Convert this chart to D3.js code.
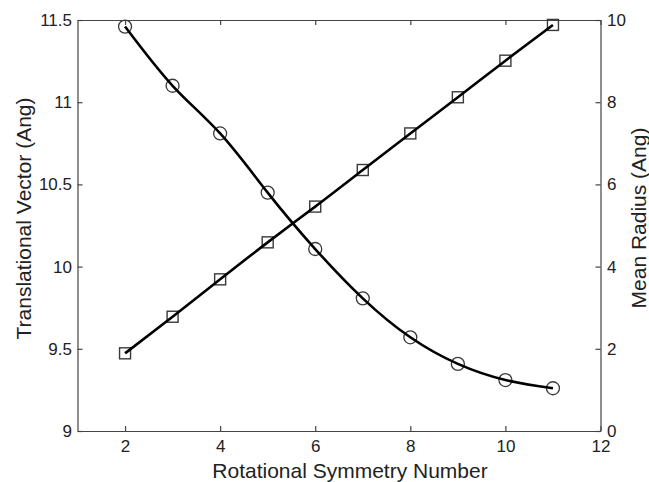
<!DOCTYPE html>
<html>
<head>
<meta charset="utf-8">
<script src="https://cdn.jsdelivr.net/npm/d3@7"></script>
<style>
  html, body { margin: 0; padding: 0; background: #fff; }
  svg { display: block; }
  text { font-family: "Liberation Sans", Arial, Helvetica, sans-serif; fill: #222; }
</style>
</head>
<body>
<svg id="chart" width="649" height="482"></svg>
<script>
// ---- data ----
const symmetryNumbers = [2, 3, 4, 5, 6, 7, 8, 9, 10, 11];
const translationalVector = [11.46, 11.10, 10.81, 10.45, 10.107, 9.807, 9.57, 9.408, 9.31, 9.26];
const meanRadius = [1.89, 2.78, 3.69, 4.59, 5.46, 6.35, 7.24, 8.12, 9.01, 9.88];
const xTicks = [2, 4, 6, 8, 10, 12];
const leftTicks = [9, 9.5, 10, 10.5, 11, 11.5];
const rightTicks = [0, 2, 4, 6, 8, 10];
const xTitle = "Rotational Symmetry Number";
const leftTitle = "Translational Vector (Ang)";
const rightTitle = "Mean Radius (Ang)";

// ---- layout ----
const L = 77.5, R = 600.5, T = 20, B = 431;
const svg = d3.select("#chart");

const x = d3.scaleLinear().domain([1, 12]).range([L, R]);
const yL = d3.scaleLinear().domain([9, 11.5]).range([B, T]);
const yR = d3.scaleLinear().domain([0, 10]).range([B, T]);

const axisColor = "#444";
const tickFont = "17px";

function styleAxis(g) {
  g.selectAll("path.domain").attr("stroke", axisColor).attr("stroke-width", 1.2);
  g.selectAll(".tick line").attr("stroke", axisColor).attr("stroke-width", 1.2);
  g.selectAll(".tick text").style("font-size", tickFont).attr("fill", "#222")
    .style("font-family", '"Liberation Sans", Arial, sans-serif');
}

// bottom axis
svg.append("g").attr("transform", `translate(0,${B})`)
  .call(d3.axisBottom(x).tickValues(xTicks).tickSizeInner(-5).tickSizeOuter(0).tickPadding(9).tickFormat(d3.format("d")))
  .call(styleAxis);
// top axis (no labels)
svg.append("g").attr("transform", `translate(0,${T})`)
  .call(d3.axisTop(x).tickValues(xTicks).tickSizeInner(-5).tickSizeOuter(0).tickFormat(""))
  .call(styleAxis);
// left axis
svg.append("g").attr("transform", `translate(${L},0)`)
  .call(d3.axisLeft(yL).tickValues(leftTicks).tickSizeInner(-5).tickSizeOuter(0).tickPadding(5.5).tickFormat(d => String(d)))
  .call(styleAxis);
// right axis
svg.append("g").attr("transform", `translate(${R},0)`)
  .call(d3.axisRight(yR).tickValues(rightTicks).tickSizeInner(-5).tickSizeOuter(0).tickPadding(6.5).tickFormat(d3.format("d")))
  .call(styleAxis);

// axis titles
svg.append("text").attr("x", 350).attr("y", 478).attr("text-anchor", "middle")
  .style("font-size", "21px").text(xTitle);
svg.append("text").attr("transform", "translate(31,218.5) rotate(-90)").attr("text-anchor", "middle")
  .style("font-size", "21px").text(leftTitle);
svg.append("text").attr("transform", "translate(646,218) rotate(-90)").attr("text-anchor", "middle")
  .style("font-size", "21px").text(rightTitle);

// markers
const markerColor = "#3a3a3a";
svg.append("g").selectAll("circle").data(symmetryNumbers).join("circle")
  .attr("cx", d => x(d)).attr("cy", (d, i) => yL(translationalVector[i]))
  .attr("r", 6.5).attr("fill", "none").attr("stroke", markerColor).attr("stroke-width", 1.3);
const s = 11;
svg.append("g").selectAll("rect").data(symmetryNumbers).join("rect")
  .attr("x", d => x(d) - s / 2).attr("y", (d, i) => yR(meanRadius[i]) - s / 2)
  .attr("width", s).attr("height", s)
  .attr("fill", "none").attr("stroke", markerColor).attr("stroke-width", 1.4);

// smooth lines
const lineL = d3.line().x(d => x(d)).y((d, i) => yL(translationalVector[i])).curve(d3.curveNatural);
const lineR = d3.line().x(d => x(d)).y((d, i) => yR(meanRadius[i])).curve(d3.curveNatural);
svg.append("path").attr("d", lineL(symmetryNumbers)).attr("fill", "none").attr("stroke", "#000").attr("stroke-width", 2.6);
svg.append("path").attr("d", lineR(symmetryNumbers)).attr("fill", "none").attr("stroke", "#000").attr("stroke-width", 2.6);
</script>
</body>
</html>
